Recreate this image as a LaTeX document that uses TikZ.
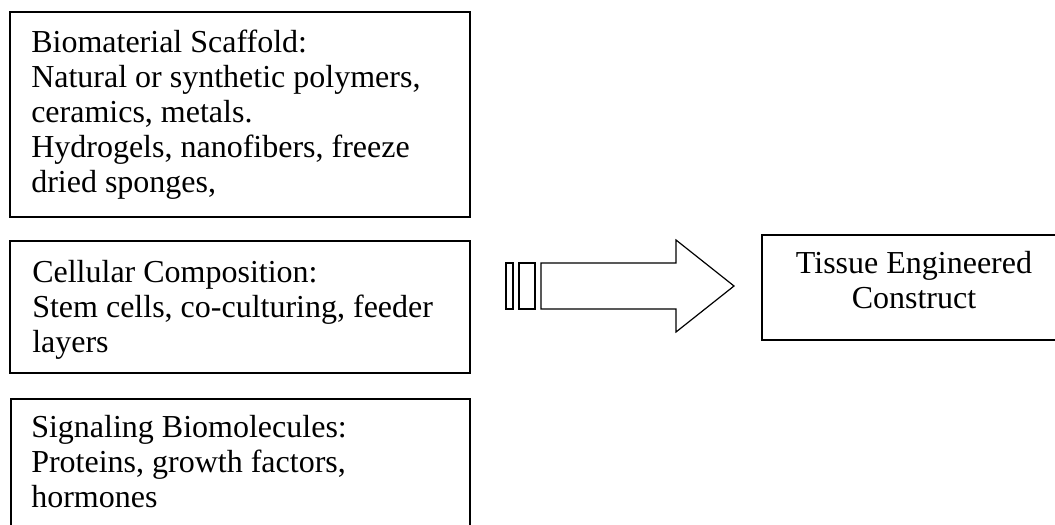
\documentclass[tikz,border=0pt]{standalone}
\usepackage{fontspec}
\setmainfont{Liberation Serif}
\usepackage{tikz}
\usetikzlibrary{calc,positioning}
\tikzset{
  infobox/.style = {draw, line width=1.2pt, rectangle, inner sep=0pt,
                    anchor=north west},
  boxtext/.style = {inner sep=0pt, align=left, anchor=north west,
                    font=\fontsize{24}{26.25}\selectfont},
  hollow/.style  = {draw, line width=0.9pt, line join=miter},
}
% invisible strut: first baseline sits 30px below the top of a text node
\newcommand{\firstline}{\rule{0pt}{22.5pt}}

\begin{document}
\begin{tikzpicture}[x=0.75pt,y=-0.75pt]
\useasboundingbox (0,0) rectangle (1055,524);
\clip (0,0) rectangle (1055,524);
% the three ingredient boxes
\node[infobox, minimum width=460*0.75pt, minimum height=205*0.75pt] (scaffold) at (9,11) {};
\node[infobox, minimum width=460*0.75pt, minimum height=132*0.75pt] (cells) at (9,240) {};
\node[infobox, minimum width=459*0.75pt, minimum height=140*0.75pt] (signals) at (10,398) {};
\node[boxtext] (scaffoldtxt) at ($(scaffold.north west)+(22,11)$)
  {\firstline Biomaterial Scaffold:\\Natural or synthetic polymers,\\ceramics, metals.\\
   Hydrogels, nanofibers, freeze\\dried sponges,};
\node[boxtext] (cellstxt) at ($(cells.north west)+(23,12)$)
  {\firstline Cellular Composition:\\Stem cells, co-culturing, feeder\\layers};
\node[boxtext] (signalstxt) at ($(signals.north west)+(21,9)$)
  {\firstline Signaling Biomolecules:\\Proteins, growth factors,\\hormones};
% result
\node[infobox, minimum width=306*0.75pt, minimum height=105*0.75pt] (construct) at (761,234) {};
\node[boxtext, anchor=north, align=center] (constructtxt) at (914,243)
  {\firstline Tissue Engineered\\Construct};
% striped block arrow
\coordinate (arrowtip) at (734,286);
\draw[hollow] (506,263) rectangle (513,309);
\draw[hollow] (519,263) rectangle (535,309);
\draw[hollow] (541,263) -- (676,263) -- (676,240) -- (arrowtip)
  -- (676,332) -- (676,309) -- (541,309) -- cycle;
\end{tikzpicture}
\end{document}
